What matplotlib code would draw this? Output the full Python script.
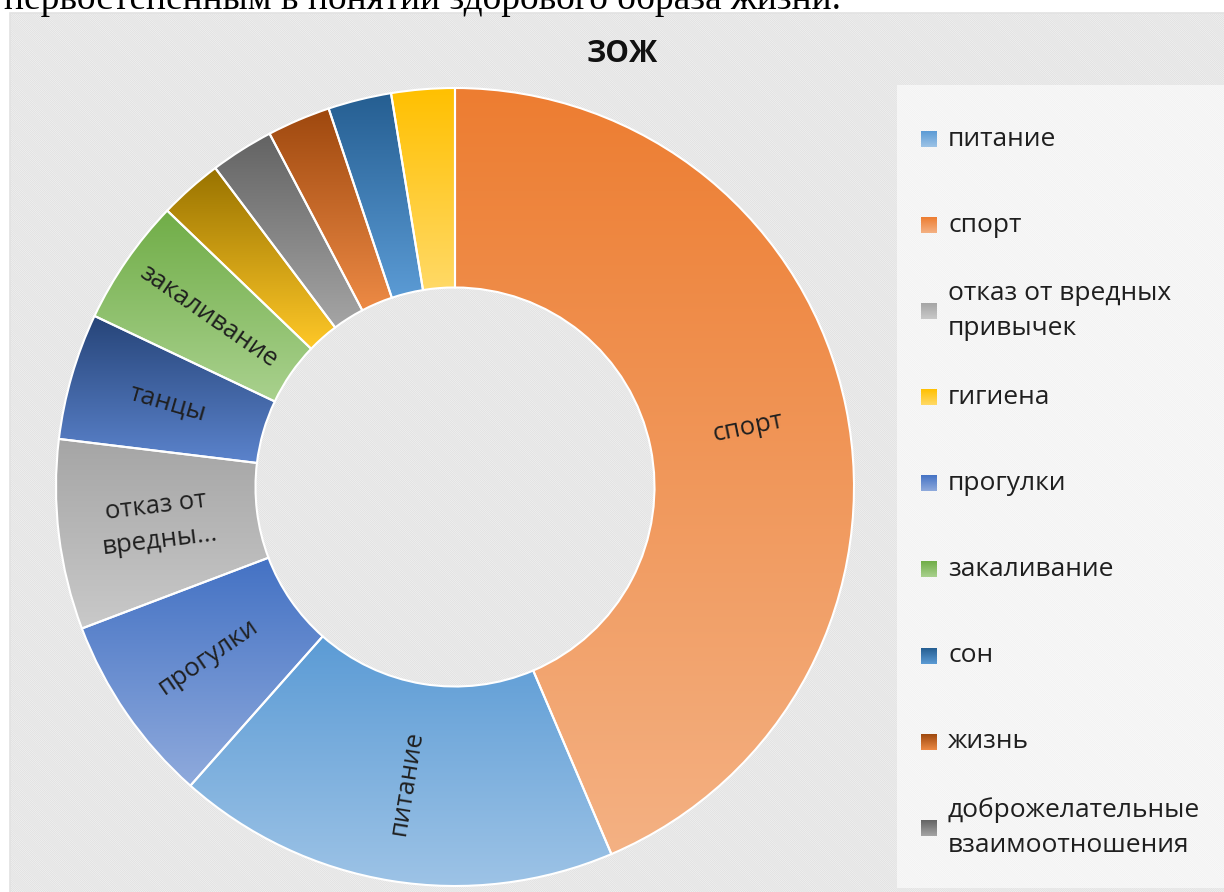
import matplotlib.pyplot as plt
import numpy as np
from matplotlib.colors import to_rgb
from matplotlib.patches import Rectangle

plt.rcParams['font.family'] = ['Open Sans', 'DejaVu Sans']
plt.rcParams['hatch.linewidth'] = 0.8

# slices, clockwise from 12 o'clock
slices = ["спорт", "питание", "прогулки", "отказ от вредных привычек", "танцы",
          "закаливание", "", "доброжелательные взаимоотношения", "жизнь", "сон", "гигиена"]
values = [17, 7, 3, 3, 2, 2, 1, 1, 1, 1, 1]
top_colors = ["#ED7D31", "#5B9BD5", "#4472C4", "#A5A5A5", "#264478",
              "#70AD47", "#997300", "#636363", "#9E480E", "#255E91", "#FFC000"]
bottom_colors = ["#F4B183", "#9DC3E6", "#8FAADC", "#C9C9C9", "#5B83CC",
                 "#A9D18E", "#FFC828", "#A5A5A5", "#ED8A45", "#5B9BD5", "#FFD966"]
slice_text = ["спорт", "питание", "прогулки", "отказ от\nвредны...", "танцы",
              "закаливание", "", "", "", "", ""]

legend_labels = ["питание", "спорт", "отказ от вредных\nпривычек", "гигиена", "прогулки",
                 "закаливание", "сон", "жизнь", "доброжелательные\nвзаимоотношения"]
legend_idx = [1, 0, 3, 10, 2, 5, 9, 8, 7]

W, H = 1224, 892
fig = plt.figure(figsize=(W / 100, H / 100), dpi=100)
fig.patch.set_facecolor("white")
ax = fig.add_axes([0, 0, 1, 1])


def py(y):
    # pixel row (from top) -> data y
    return H - y


def gradient(x0, x1, y0, y1, c0, c1, clip=None):
    t = np.linspace(0, 1, 256)[:, None, None]
    img = (1 - t) * np.array(to_rgb(c0)) + t * np.array(to_rgb(c1))
    im = ax.imshow(img, extent=[x0, x1, y0, y1], origin="upper", aspect="auto",
                   interpolation="bilinear", zorder=2)
    if clip is not None:
        im.set_clip_path(clip)
    return im


# chart area with diagonal hatching
ax.add_patch(Rectangle((10, -10), W, py(13) + 10, facecolor="#FBFBFB",
                       edgecolor="#E2E2E2", hatch="\\" * 16, lw=1.2, zorder=0))

# text of the document cut by the screenshot
ax.text(4, py(9), "первостепенным в понятии здорового образа жизни.",
        family=["Liberation Serif"], fontsize=27, color="black", va="baseline", zorder=5)

cx, cy, R = 455, py(487), 399
wedges, _ = ax.pie(values, radius=R, center=(cx, cy), startangle=90, counterclock=False,
                   colors=top_colors,
                   wedgeprops=dict(width=R * 0.5, edgecolor="white", linewidth=1.5))
for w, c0, c1 in zip(wedges, top_colors, bottom_colors):
    bb = w.get_path().get_extents()
    gradient(bb.x0, bb.x1, bb.y0, bb.y1, c0, c1, clip=w)
    w.set_facecolor("none")
    w.set_zorder(3)

# slice labels, radial like Excel
total = sum(values)
start = 0
for v, txt in zip(values, slice_text):
    mid = (start + v / 2) / total * 360
    start += v
    if not txt:
        continue
    a = 90 - mid
    rot = (a + 180) % 360 - 180
    if rot > 90:
        rot -= 180
    elif rot < -90:
        rot += 180
    rad = np.deg2rad(a)
    ax.text(cx + 0.75 * R * np.cos(rad), cy + 0.75 * R * np.sin(rad), txt,
            rotation=rot, rotation_mode="anchor", ha="center", va="center",
            fontsize=18.5, color="#1F1F1F", linespacing=1.5, zorder=4)

ax.text(622, py(54), "ЗОЖ", ha="center", va="center", fontsize=21.5,
        fontweight="bold", color="#111111", zorder=4)

# legend panel
ax.add_patch(Rectangle((897, py(888)), 400, 888 - 85, facecolor="white",
                       edgecolor="none", alpha=0.6, zorder=1))
for i, (lab, k) in enumerate(zip(legend_labels, legend_idx)):
    yc = 139 + i * 86.1
    gradient(921, 937, py(yc + 8), py(yc - 8), top_colors[k], bottom_colors[k])
    ax.text(948, py(yc), lab, ha="left", va="center", fontsize=19,
            color="#1F1F1F", linespacing=1.55, zorder=4)

ax.set_xlim(0, W)
ax.set_ylim(0, H)
ax.set_aspect("auto")
ax.axis("off")

fig.savefig("out.png", dpi=100)
